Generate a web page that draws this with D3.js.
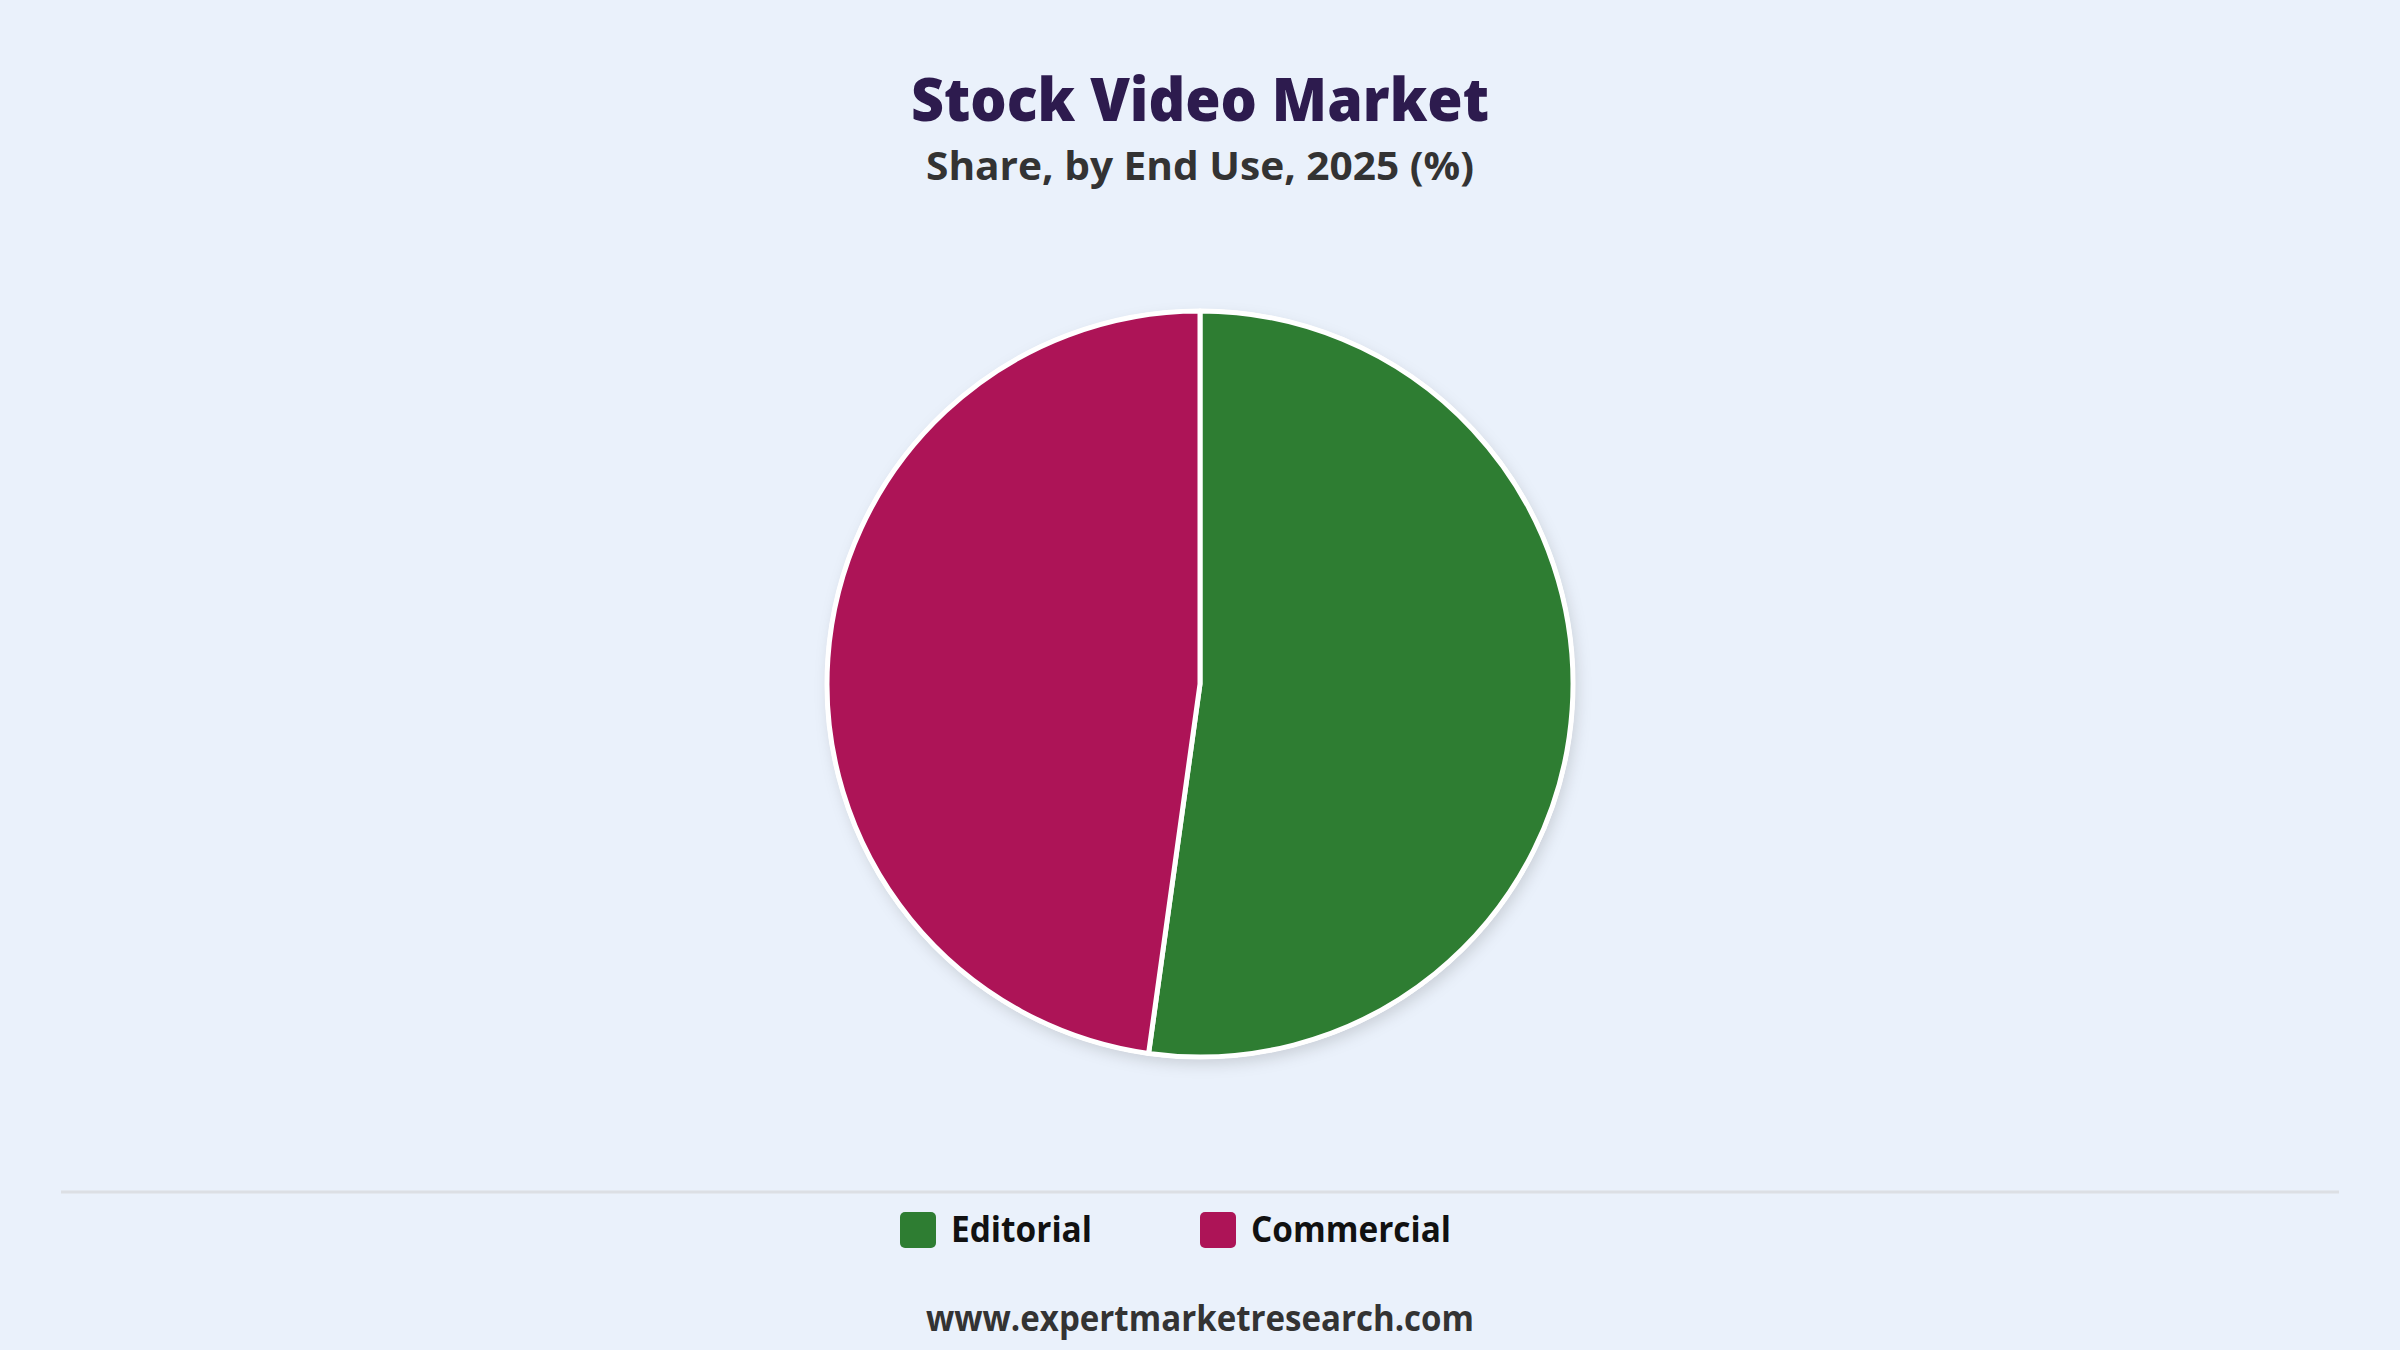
<!DOCTYPE html>
<html><head><meta charset="utf-8">
<script src="https://cdn.jsdelivr.net/npm/d3@7/dist/d3.min.js"></script>
<style>
html,body{margin:0;padding:0;background:#eaf1fb;}
svg{display:block;}
text{font-family:"Open Sans","Noto Sans",sans-serif;}
</style></head>
<body><svg id="chart" width="2400" height="1350"></svg>
<script>
const categories = ["Editorial", "Commercial"];
const shares = [52.2, 47.8];
const colors = ["#2e7d32", "#ad1457"];
const titleText = "Stock Video Market";
const subtitleText = "Share, by End Use, 2025 (%)";
const footerText = "www.expertmarketresearch.com";

const W = 2400, H = 1350;
const svg = d3.select("#chart");
svg.append("rect").attr("width", W).attr("height", H).attr("fill", "#eaf1fb");

const defs = svg.append("defs");
const f = defs.append("filter").attr("id", "shadow").attr("x", "-20%").attr("y", "-20%").attr("width", "140%").attr("height", "140%");
f.append("feDropShadow").attr("dx", 3).attr("dy", 6).attr("stdDeviation", 7)
  .attr("flood-color", "#000").attr("flood-opacity", 0.13);

function fitText(sel, width) {
  sel.each(function () {
    const len = this.getComputedTextLength();
    if (len > 0) d3.select(this).attr("textLength", width).attr("lengthAdjust", "spacingAndGlyphs");
  });
}

svg.append("text").attr("x", 1200).attr("y", 121).attr("text-anchor", "middle")
  .attr("font-size", 61).attr("font-weight", 800).attr("fill", "#2d1b4e")
  .text(titleText).call(fitText, 578);

svg.append("text").attr("x", 1200).attr("y", 180).attr("text-anchor", "middle")
  .attr("font-size", 40).attr("font-weight", 700).attr("fill", "#333333")
  .text(subtitleText).call(fitText, 548);

const cx = 1200, cy = 684, r = 373;
const pie = d3.pie().sort(null).value(d => d.v);
const arc = d3.arc().innerRadius(0).outerRadius(r);
const data = categories.map((c, i) => ({ c, v: shares[i], col: colors[i] }));

const g = svg.append("g").attr("transform", `translate(${cx},${cy})`);
g.append("circle").attr("r", r + 2).attr("fill", "#ffffff").attr("filter", "url(#shadow)");
g.selectAll("path").data(pie(data)).join("path")
  .attr("d", arc).attr("fill", d => d.data.col)
  .attr("stroke", "#ffffff").attr("stroke-width", 5).attr("stroke-linejoin", "round");

svg.append("line").attr("x1", 61).attr("x2", 2339).attr("y1", 1192).attr("y2", 1192)
  .attr("stroke", "#dcdfe4").attr("stroke-width", 3);

const legendX = [900, 1200];
const lg = svg.append("g");
data.forEach((d, i) => {
  lg.append("rect").attr("x", legendX[i]).attr("y", 1212).attr("width", 36).attr("height", 36)
    .attr("rx", 5).attr("fill", d.col);
  lg.append("text").attr("x", legendX[i] + 51).attr("y", 1242)
    .attr("font-size", 35).attr("font-weight", 700).attr("fill", "#111111").text(d.c)
    .call(fitText, i === 0 ? 141 : 200);
});

svg.append("text").attr("x", 1200).attr("y", 1331).attr("text-anchor", "middle")
  .attr("font-size", 35).attr("font-weight", 700).attr("fill", "#333333")
  .text(footerText).call(fitText, 548);
</script></body></html>
